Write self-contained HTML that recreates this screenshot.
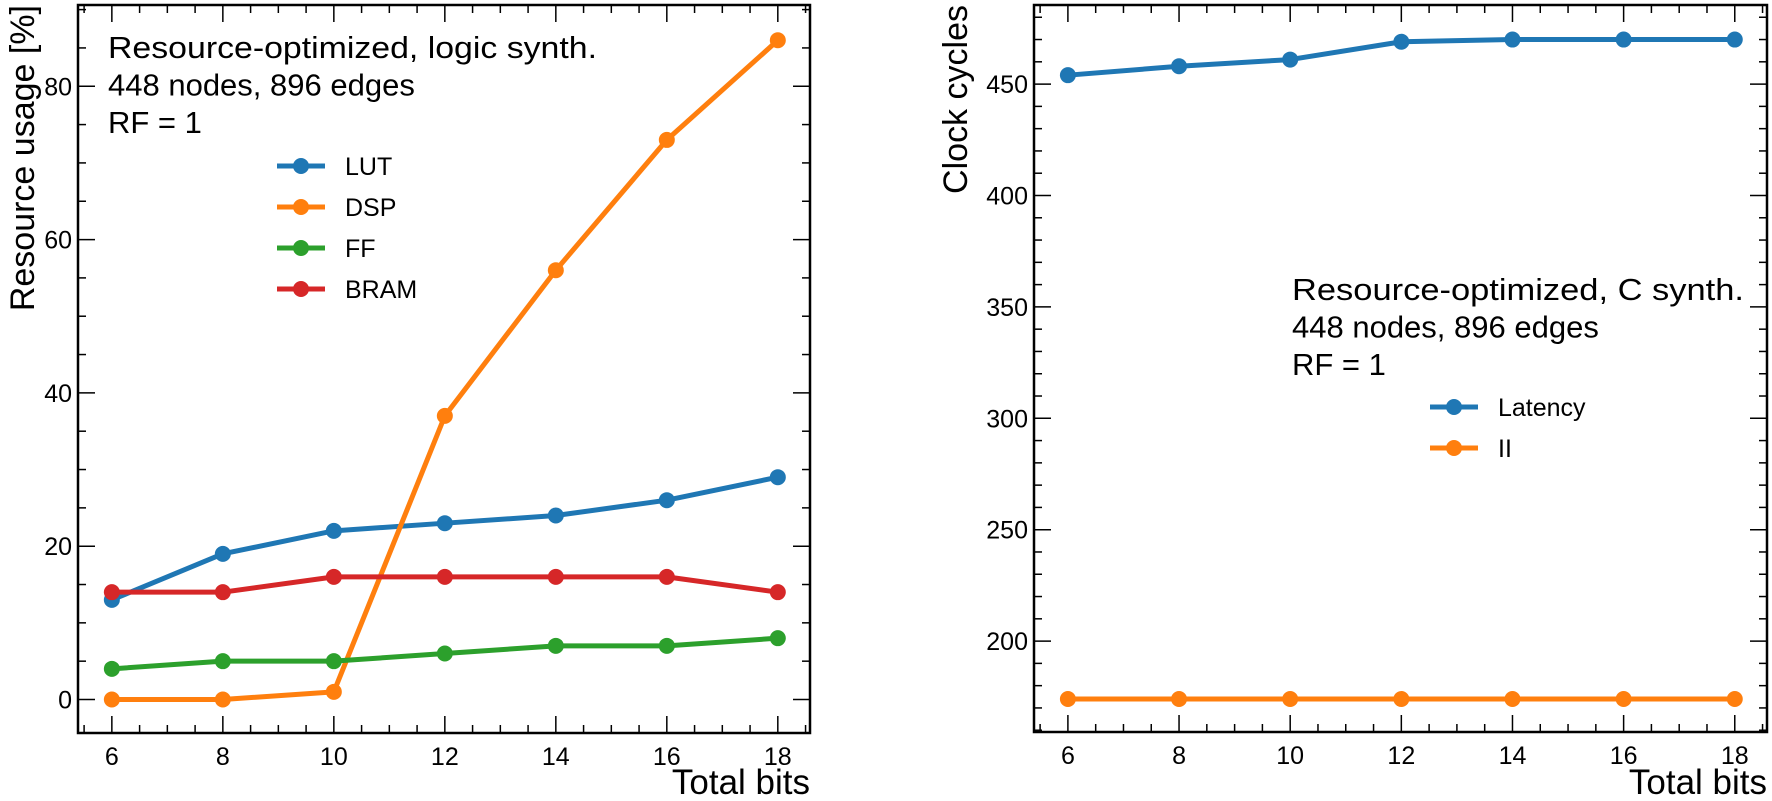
<!DOCTYPE html>
<html><head><meta charset="utf-8"><style>
html,body{margin:0;padding:0;background:#fff;}
svg{display:block;font-family:"Liberation Sans",Arial,sans-serif;}
</style></head><body>
<svg id="fig" width="1772" height="801" viewBox="0 0 1772 801" xmlns="http://www.w3.org/2000/svg"></svg>
<script>
const bits = [6, 8, 10, 12, 14, 16, 18];
const lutValues = [13, 19, 22, 23, 24, 26, 29];
const dspValues = [0, 0, 1, 37, 56, 73, 86];
const ffValues = [4, 5, 5, 6, 7, 7, 8];
const bramValues = [14, 14, 16, 16, 16, 16, 14];
const latencyValues = [454, 458, 461, 469, 470, 470, 470];
const iiValues = [174, 174, 174, 174, 174, 174, 174];
const xTicks = [6, 8, 10, 12, 14, 16, 18];
const leftYTicks = [0, 20, 40, 60, 80];
const rightYTicks = [200, 250, 300, 350, 400, 450];

const NS = "http://www.w3.org/2000/svg";
const svg = document.getElementById('fig');
function mk(tag, attrs, parent) {
  const e = document.createElementNS(NS, tag);
  for (const k in attrs) e.setAttribute(k, attrs[k]);
  (parent || svg).appendChild(e);
  return e;
}
const C = {blue:'#1f77b4', orange:'#ff7f0e', green:'#2ca02c', red:'#d62728'};

function makeAxes(name, box, xr, yr, yTicks, yMinor, yTitle, yTitleX) {
  const g = mk('g', {});
  
  
  const sx = v => box.x0 + (v - xr[0]) / (xr[1] - xr[0]) * (box.x1 - box.x0);
  const sy = v => box.y1 - (v - yr[0]) / (yr[1] - yr[0]) * (box.y1 - box.y0);
  for (let v = Math.ceil(xr[0] * 2) / 2; v <= xr[1]; v += 0.5) {
    const major = Math.abs(v - Math.round(v / 2) * 2) < 1e-6;
    const L = major ? 17 : 8, x = sx(v);
    const t1 = mk('line', {x1:x, x2:x, y1:box.y1, y2:box.y1 - L, stroke:'#000', 'stroke-width':1.5}, g);
    
    
    mk('line', {x1:x, x2:x, y1:box.y0, y2:box.y0 + L, stroke:'#000', 'stroke-width':1.5}, g);
  }
  xTicks.forEach(v => {
    const t = mk('text', {x:sx(v), y:box.y1 + 32, 'font-size':25, 'text-anchor':'middle'}, g);
    t.textContent = v;
    
    
  });
  for (let v = Math.ceil(yr[0] / yMinor) * yMinor; v <= yr[1]; v += yMinor) {
    const major = yTicks.includes(Math.round(v));
    const L = major ? 17 : 8, y = sy(v);
    const t1 = mk('line', {x1:box.x0, x2:box.x0 + L, y1:y, y2:y, stroke:'#000', 'stroke-width':1.5}, g);
    
    
    mk('line', {x1:box.x1, x2:box.x1 - L, y1:y, y2:y, stroke:'#000', 'stroke-width':1.5}, g);
  }
  yTicks.forEach(v => {
    const t = mk('text', {x:box.x0 - 6, y:sy(v) + 9, 'font-size':25, 'text-anchor':'end'}, g);
    t.textContent = v;
    
    
  });
  const fr = mk('rect', {x:box.x0, y:box.y0, width:box.x1 - box.x0, height:box.y1 - box.y0, fill:'none', stroke:'#000', 'stroke-width':2.5}, g);
  
  
  const xt = mk('text', {x:box.x1, y:794, 'font-size':35, 'text-anchor':'end'}, g);
  xt.textContent = 'Total bits';
  
  
  const yt = mk('text', {x:0, y:0, 'font-size':34, 'text-anchor':'end', transform:`translate(${yTitleX},${box.y0}) rotate(-90)`}, g);
  yt.textContent = yTitle;
  
  
  return {g, sx, sy};
}

function series(ax, name, vals, color) {
  const g = mk('g', {}, ax.g);
  
  
  const pts = bits.map((b, i) => ax.sx(b) + ',' + ax.sy(vals[i])).join(' ');
  mk('polyline', {points:pts, fill:'none', stroke:color, 'stroke-width':5, 'stroke-linejoin':'round'}, g);
  bits.forEach((b, i) => {
    const c = mk('circle', {cx:ax.sx(b), cy:ax.sy(vals[i]), r:8, fill:color}, g);
    
    
  });
}

function legend(ax, name, x, y0, dy, items) {
  const g = mk('g', {}, ax.g);
  
  
  items.forEach((it, i) => {
    const y = y0 + i * dy;
    const e = mk('g', {}, g);
    
    
    mk('line', {x1:x, x2:x + 48, y1:y, y2:y, stroke:it[1], 'stroke-width':5}, e);
    mk('circle', {cx:x + 24, cy:y, r:8, fill:it[1]}, e);
    const t = mk('text', {x:x + 68, y:y + 9, 'font-size':25}, e);
    t.textContent = it[0];
  });
}

function annotation(ax, name, x, y0, lines, w1) {
  const g = mk('g', {}, ax.g);
  
  
  lines.forEach((l, i) => {
    const t = mk('text', {x:x, y:y0 + i * 37.5, 'font-size':31}, g);
    if (i === 0) { t.setAttribute('textLength', w1); t.setAttribute('lengthAdjust', 'spacingAndGlyphs'); }
    t.textContent = l;
  });
}

const L = makeAxes('resource-usage-panel', {x0:78, x1:810, y0:5, y1:733}, [5.39, 18.58], [-4.37, 90.6], leftYTicks, 5, 'Resource usage [%]', 34);
series(L, 'lut-series', lutValues, C.blue);
series(L, 'dsp-series', dspValues, C.orange);
series(L, 'ff-series', ffValues, C.green);
series(L, 'bram-series', bramValues, C.red);
annotation(L, 'left-annotation', 108, 58, ['Resource-optimized, logic synth.', '448 nodes, 896 edges', 'RF = 1'], 489);
legend(L, 'left-legend', 277, 166, 41, [['LUT', C.blue], ['DSP', C.orange], ['FF', C.green], ['BRAM', C.red]]);

const R = makeAxes('clock-cycles-panel', {x0:1034, x1:1767, y0:5, y1:732}, [5.39, 18.58], [159.2, 485.5], rightYTicks, 10, 'Clock cycles', 967);
series(R, 'latency-series', latencyValues, C.blue);
series(R, 'ii-series', iiValues, C.orange);
annotation(R, 'right-annotation', 1292, 300, ['Resource-optimized, C synth.', '448 nodes, 896 edges', 'RF = 1'], 452);
legend(R, 'right-legend', 1430, 407, 41, [['Latency', C.blue], ['II', C.orange]]);
</script>
</body></html>
